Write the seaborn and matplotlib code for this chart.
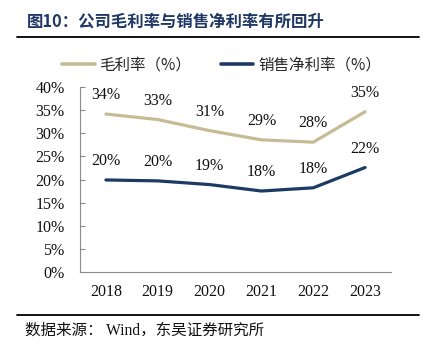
import matplotlib
matplotlib.use("Agg")
import matplotlib.pyplot as plt
import seaborn as sns
import pandas as pd
from matplotlib.lines import Line2D

years = ["2018", "2019", "2020", "2021", "2022", "2023"]
gross_margin = [34.2, 33.0, 30.6, 28.6, 28.1, 34.7]
net_margin = [19.9, 19.7, 18.9, 17.5, 18.2, 22.6]
gross_labels = ["34%", "33%", "31%", "29%", "28%", "35%"]
net_labels = ["20%", "20%", "19%", "18%", "18%", "22%"]
series_names = ["毛利率（%）", "销售净利率（%）"]
colors = ["#C6BB95", "#1C3B64"]
yticks = [0, 5, 10, 15, 20, 25, 30, 35, 40]

sns.set_theme(style="white")
plt.rcParams["font.family"] = ["Liberation Serif", "Noto Sans CJK SC"]

fig = plt.figure(figsize=(4.28, 3.47), dpi=100)
ax = fig.add_axes([80/428, 1-271.7/347, (391-80)/428, (271.7-87.3)/347])

df = pd.DataFrame({
    "x": list(range(len(years))) * 2,
    "value": gross_margin + net_margin,
    "series": [series_names[0]] * len(years) + [series_names[1]] * len(years),
})
sns.lineplot(data=df, x="x", y="value", hue="series", palette=colors,
             linewidth=2.3, ax=ax, legend=False, sort=False)

for vals, labs in ((gross_margin, gross_labels), (net_margin, net_labels)):
    for i, (v, l) in enumerate(zip(vals, labs)):
        ax.annotate(l, (i, v), xytext=(0, 19), textcoords="offset pixels",
                    ha="center", va="center", fontsize=11.5,
                    family="Liberation Serif", color="#111111")

ax.set_xlim(-0.5, len(years) - 0.5)
ax.set_ylim(0, 40)
ax.set_yticks(yticks)
ax.set_yticklabels([f"{t}%" for t in yticks], family="Liberation Serif", fontsize=11.5, color="#111111")
ax.set_xticks([i - 0.5 for i in range(len(years) + 1)], minor=False)
ax.set_xticklabels([""] * (len(years) + 1))
ax.set_xticks(range(len(years)), minor=True)
ax.set_xticklabels(years, minor=True, family="Liberation Serif", fontsize=11.5, color="#111111")
ax.tick_params(axis="x", which="major", direction="in", length=5, width=0.8, color="#8c8c8c")
ax.tick_params(axis="x", which="minor", length=0, pad=9)
ax.tick_params(axis="y", direction="in", length=3.5, width=0.8, color="#8c8c8c", pad=11, left=True)
ax.set_xlabel("")
ax.set_ylabel("")
for s in ["top", "right"]:
    ax.spines[s].set_visible(False)
for s in ["left", "bottom"]:
    ax.spines[s].set_color("#8c8c8c")
    ax.spines[s].set_linewidth(0.8)

handles = [Line2D([], [], color=c, linewidth=2.6) for c in colors]
fig.legend(handles, series_names, loc="center", bbox_to_anchor=(221.5/428, 1-65/347),
           ncol=2, frameon=False, handlelength=2.1, handletextpad=0.3, columnspacing=1.9,
           prop={"family": ["Noto Sans CJK SC"], "size": 11.2})

fig.text(27/428, 1-22/347, "图10：公司毛利率与销售净利率有所回升", ha="left", va="center",
         fontsize=11.8, fontweight="bold", color="#1F3864",
         family=["Noto Sans CJK SC", "DejaVu Sans"])
fig.add_artist(Line2D([17/428, 419/428], [1-37/347, 1-37/347], color="black", linewidth=1.3))
fig.add_artist(Line2D([17/428, 419/428], [1-315/347, 1-315/347], color="black", linewidth=1.3))
fig.text(25/428, 1-331/347, "数据来源： Wind，东吴证券研究所", ha="left", va="center",
         fontsize=11.2, color="#111111", family=["Liberation Serif", "Noto Sans CJK SC"])

fig.savefig("out.png", dpi=100)
